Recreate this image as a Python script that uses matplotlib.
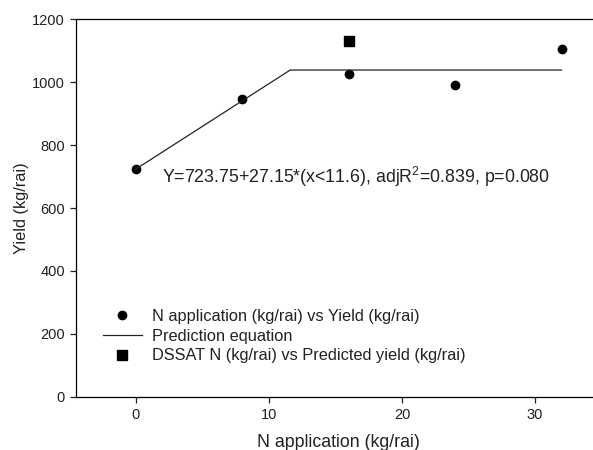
import matplotlib
matplotlib.use("Agg")
import matplotlib.pyplot as plt
import numpy as np

plt.rcParams['font.family'] = ['Liberation Sans', 'DejaVu Sans']
plt.rcParams['mathtext.fontset'] = 'custom'
plt.rcParams['mathtext.rm'] = 'Liberation Sans'

# Observed yield at each N rate
n_rate = [0, 8, 16, 24, 32]
yield_obs = [725, 945, 1025, 990, 1105]

# Linear-plateau prediction equation
intercept = 723.75
slope = 27.15
breakpoint = 11.6
line_x = [0, breakpoint, 32]

# DSSAT N rate and predicted yield
dssat_n = [16]
dssat_yield = [1130]

line_y = [intercept + slope * min(x, breakpoint) for x in line_x]

fig = plt.figure(figsize=(5.93, 4.5), dpi=100)
ax = fig.add_axes([76 / 593, 53.3 / 450, (601.5 - 76) / 593, (396.7 - 19.3) / 450])

ax.plot(n_rate, yield_obs, 'o', color='black', markersize=6, linestyle='none',
        label='N application (kg/rai) vs Yield (kg/rai)')
ax.plot(line_x, line_y, '-', color='#222222', linewidth=0.9,
        label='Prediction equation')
ax.plot(dssat_n, dssat_yield, 's', color='black', markersize=6.5, linestyle='none',
        label='DSSAT N (kg/rai) vs Predicted yield (kg/rai)')

ax.set_xlim(-4.5, 35)
ax.set_ylim(0, 1200)
ax.set_xticks([0, 10, 20, 30])
ax.set_yticks(range(0, 1201, 200))

ax.spines['right'].set_visible(False)
for s in ['left', 'bottom', 'top']:
    ax.spines[s].set_linewidth(0.9)
ax.tick_params(direction='out', length=4, width=0.9, labelsize=10.5, pad=4,
               top=False, right=False, colors='#222222', labelcolor='#222222')

ax.set_xlabel('N application (kg/rai)', fontsize=12.8, labelpad=9, color='#222222')
ax.set_ylabel('Yield (kg/rai)', fontsize=11.8, labelpad=2, color='#222222')

ax.text(2.0, 679, r'Y=723.75+27.15*(x<11.6), adjR$^2$=0.839, p=0.080',
        fontsize=12.8, ha='left', va='baseline', color='#222222')

leg = ax.legend(loc='lower left', bbox_to_anchor=(0.051, 0.088), frameon=False,
                fontsize=11.8, handlelength=2.4, handletextpad=0.6,
                labelspacing=0.3, borderaxespad=0, borderpad=0)
for t in leg.get_texts():
    t.set_color('#222222')

fig.savefig('out.png', dpi=100)
